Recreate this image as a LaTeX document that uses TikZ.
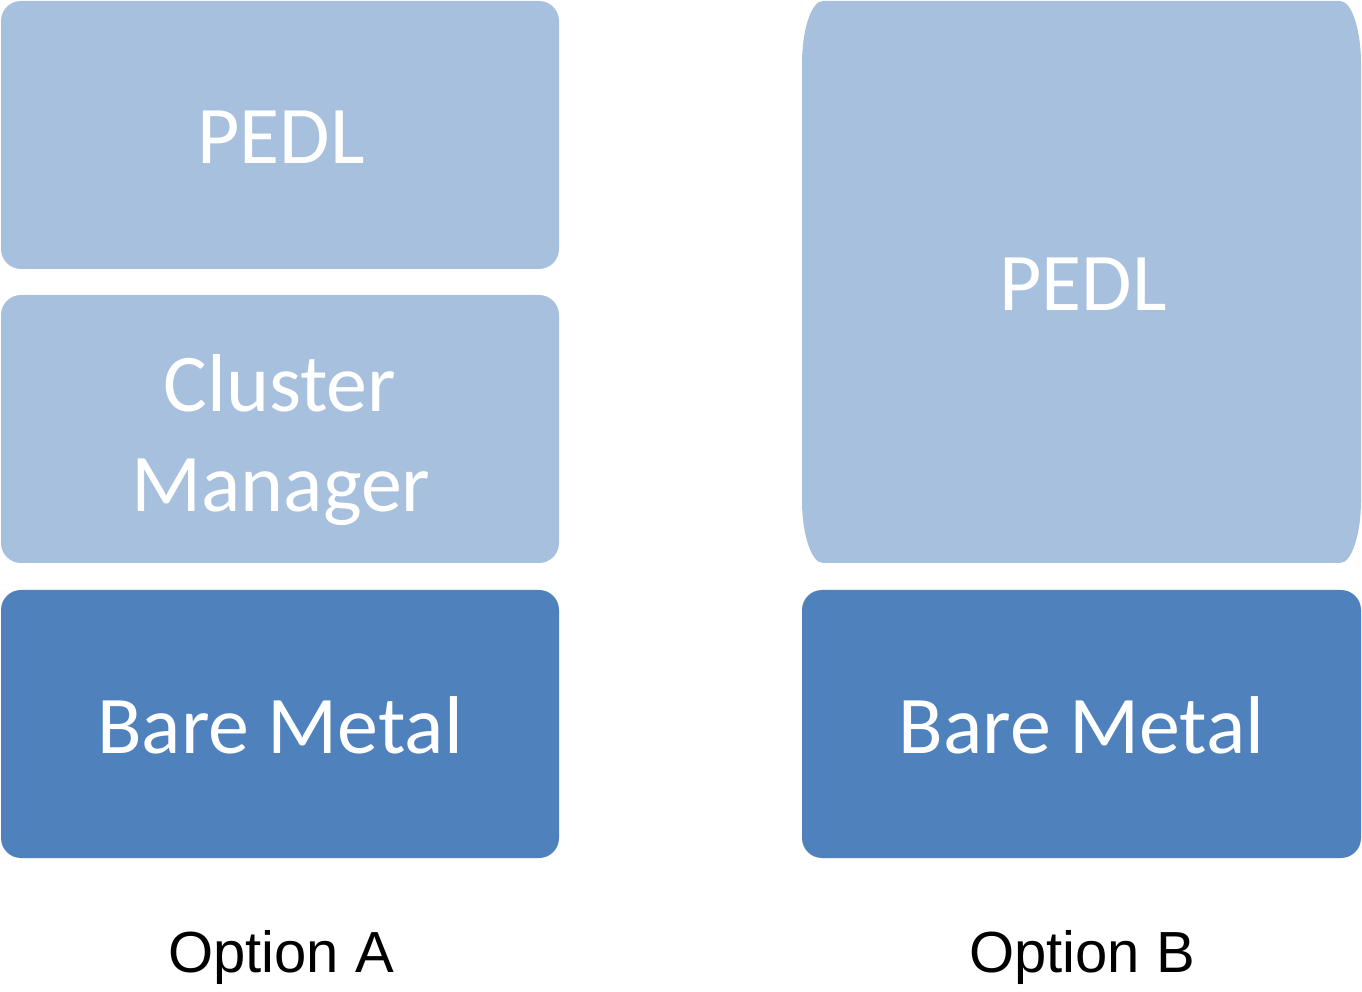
\documentclass[tikz,border=0pt]{standalone}
\usepackage{fontspec}
\newfontfamily\boxfont{Carlito}
\newfontfamily\labfont{Liberation Sans}
\definecolor{lightblue}{RGB}{167,192,222}
\definecolor{darkblue}{RGB}{79,129,189}
\begin{document}
\begin{tikzpicture}[x=1pt,y=1pt,
  layerbox/.style={draw=none,rounded corners=20pt,minimum width=558pt,minimum height=268pt,inner sep=0pt},
  lighter/.style={layerbox,fill=lightblue},
  darker/.style={layerbox,fill=darkblue},
  boxtext/.style={anchor=base,text=white,inner sep=0pt,font=\boxfont\fontsize{82}{100}\selectfont},
  optlabel/.style={anchor=base,text=black,inner sep=0pt,font=\labfont\fontsize{58}{68}\selectfont}]
\useasboundingbox (0,0) rectangle (1362,991);
% Option A
\node[lighter] (apedl) at (280,856) {};
\node[lighter] (acm) at (280,562) {};
\node[darker] (abm) at (280,267) {};
\node[boxtext] (apedlt) at (281,827) {PEDL};
\node[boxtext] (acmt1) at (280,579) {Cluster};
\node[boxtext] (acmt2) at (281,479) {Manager};
\node[boxtext] (abmt) at (280,238) {Bare Metal};
\node[optlabel] (opta) at (281,19) {Option A};
% Option B
\fill[lightblue] (823,428) -- (1340,428)
  arc[start angle=-90,end angle=0,x radius=21,y radius=63] -- (1361,927)
  arc[start angle=0,end angle=90,x radius=21,y radius=63] -- (823,990)
  arc[start angle=90,end angle=180,x radius=21,y radius=63] -- (802,491)
  arc[start angle=180,end angle=270,x radius=21,y radius=63] -- cycle;
\node[draw=none,minimum width=559pt,minimum height=562pt,inner sep=0pt] (bpedl) at (1081.5,709) {};
\node[darker,minimum width=559pt] (bbm) at (1081.5,267) {};
\node[boxtext] (bpedlt) at (1083,680) {PEDL};
\node[boxtext] (bbmt) at (1081.5,238) {Bare Metal};
\node[optlabel] (optb) at (1082,19) {Option B};
\end{tikzpicture}
\end{document}
